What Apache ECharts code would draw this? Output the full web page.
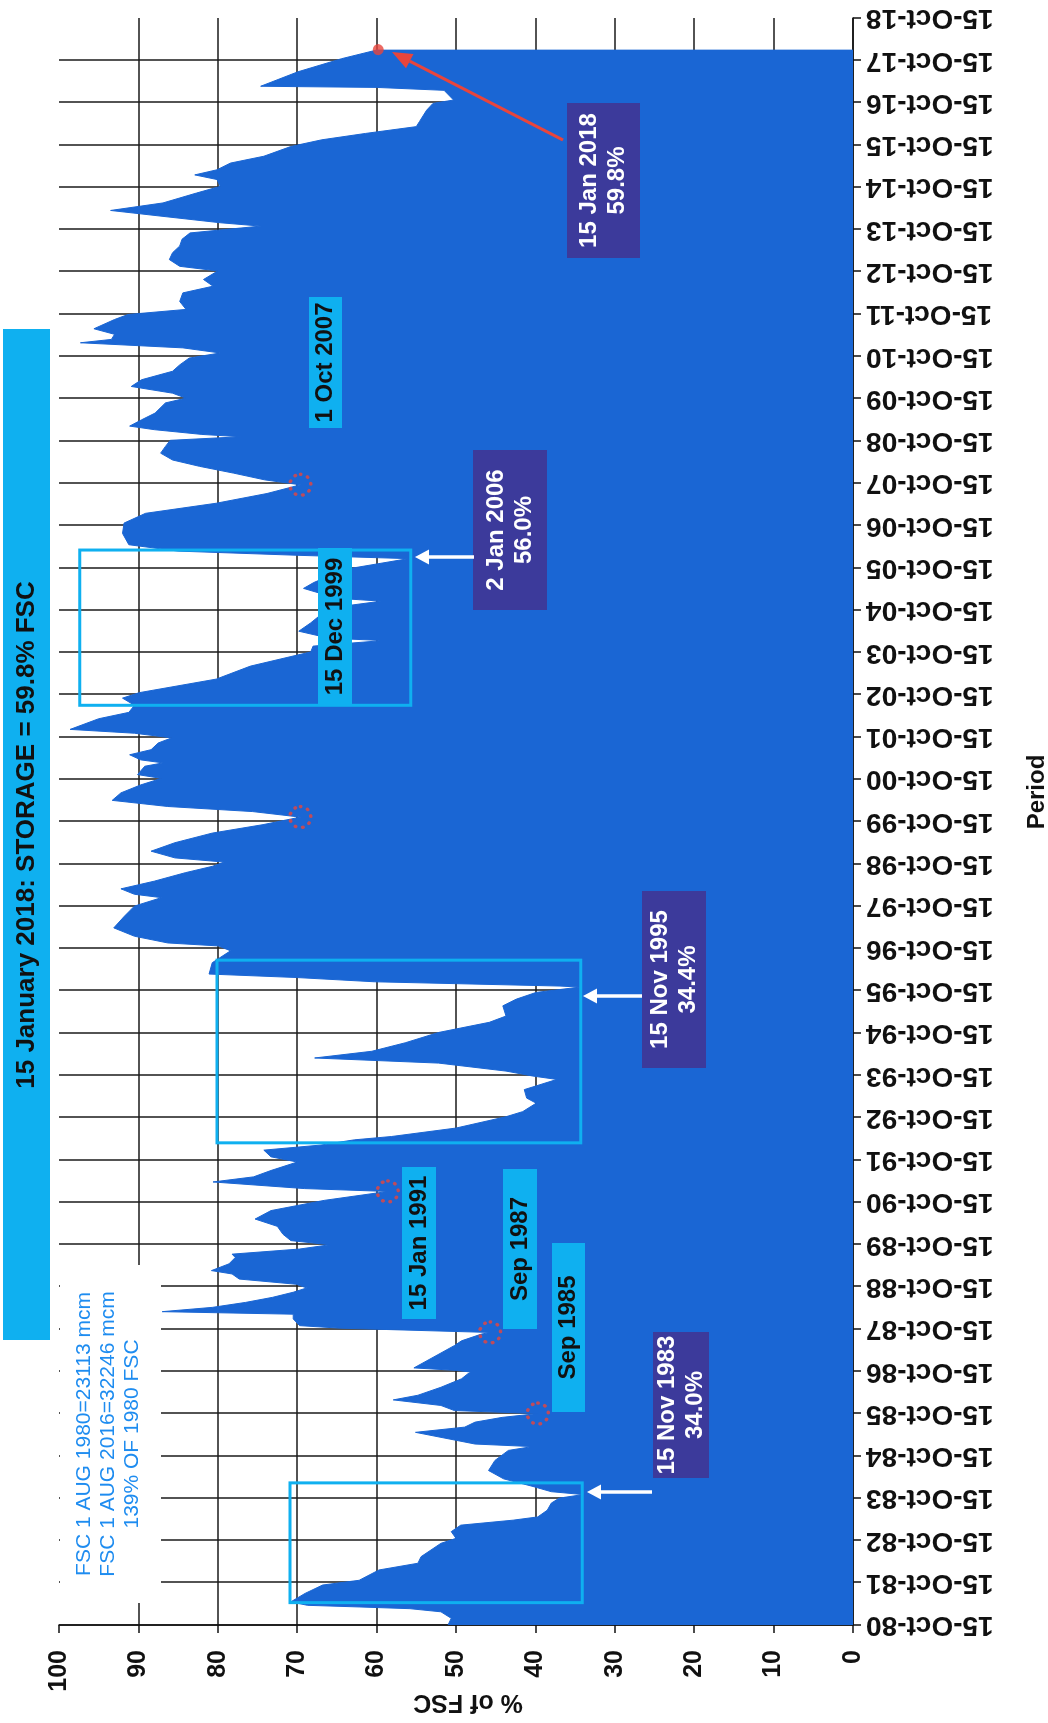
<!DOCTYPE html>
<html><head><meta charset="utf-8">
<script src="https://cdn.jsdelivr.net/npm/echarts@6/dist/echarts.min.js"></script>
<style>
html,body{margin:0;padding:0;width:1048px;height:1723px;overflow:hidden;background:#fff;}
#chart{position:absolute;left:0;top:0;width:1723px;height:1048px;transform-origin:0 0;transform:translateY(1723px) rotate(-90deg);}
</style></head><body><div id="chart"></div><script>
// ---- data ----
const dates = ['1980-10-15','1980-12-12','1981-02-06','1981-03-05','1981-03-20','1981-04-03','1981-05-03','1981-07-15','1981-09-25','1981-11-05',
'1982-02-02','1982-04-01','1982-05-28','1982-09-20','1982-11-02','1982-12-30','1983-02-24','1983-04-08','1983-05-06','1983-07-03',
'1983-09-02','1983-10-15','1983-11-15','1983-12-10','1984-01-24','1984-03-30','1984-06-10','1984-09-05','1984-12-01','1985-01-03',
'1985-01-25','1985-05-06','1985-06-20','1985-08-02','1985-09-12','1985-10-15','1985-11-10','1985-12-24','1986-02-10','1986-03-22',
'1986-05-30','1986-08-11','1986-09-24','1986-10-08','1986-10-22','1986-11-13','1987-05-25','1987-07-05','1987-09-01','1987-09-15',
'1987-10-22','1987-11-13','1988-01-10','1988-02-20','1988-03-13','1988-04-19','1988-06-01','1988-07-15','1988-08-28','1988-10-04',
'1988-11-05','1988-12-20','1989-02-02','1989-03-03','1989-04-30','1989-06-24','1989-07-23','1989-09-05','1989-10-12','1989-11-17',
'1990-01-11','1990-03-20','1990-05-22','1990-08-03','1990-10-30','1991-01-15','1991-02-09','1991-04-07','1991-05-21','1991-07-15',
'1991-09-26','1991-11-10','1992-01-07','1992-02-20','1992-04-05','1992-05-04','1992-07-16','1992-10-22','1992-12-05','1993-02-16',
'1993-04-01','1993-06-13','1993-09-09','1993-10-08','1993-11-20','1994-01-28','1994-03-13','1994-05-10','1994-07-22','1994-10-19',
'1995-01-15','1995-03-10','1995-06-06','1995-08-03','1995-09-30','1995-11-15','1995-11-24','1995-12-31','1996-02-06','1996-03-07',
'1996-06-13','1996-09-24','1996-11-05','1996-12-01','1997-01-28','1997-04-10','1997-07-17','1997-10-15','1997-12-27','1998-01-25',
'1998-03-13','1998-05-18','1998-07-30','1998-09-23','1998-10-30','1998-12-05','1999-02-01','1999-04-15','1999-07-07','1999-09-18',
'1999-11-22','2000-01-09','2000-02-22','2000-04-15','2000-06-19','2000-08-27','2000-10-22','2000-11-24','2001-02-04','2001-03-05',
'2001-03-31','2001-05-14','2001-06-27','2001-08-24','2001-10-07','2001-11-16','2001-12-19','2002-03-21','2002-05-15','2002-07-15',
'2002-09-15','2002-11-01','2003-02-26','2003-06-18','2003-09-15','2003-10-18','2003-12-08','2004-01-25','2004-02-15','2004-04-15',
'2004-06-26','2004-11-01','2004-12-31','2005-01-25','2005-04-20','2005-06-10','2005-10-01','2006-01-02','2006-01-31','2006-03-08',
'2006-05-02','2006-08-08','2006-11-05','2007-01-28','2007-04-25','2007-07-18','2007-10-01','2007-11-13','2008-01-10','2008-03-09',
'2008-05-03','2008-07-01','2008-08-28','2008-10-20','2008-11-20','2008-12-10','2009-01-20','2009-02-20','2009-04-15','2009-06-12',
'2009-09-08','2009-10-19','2009-12-01','2010-01-28','2010-03-27','2010-06-08','2010-08-02','2010-09-30','2010-11-13','2010-12-27',
'2011-02-09','2011-03-10','2011-04-23','2011-06-10','2011-08-29','2011-10-11','2011-11-24','2012-02-01','2012-04-15','2012-06-12',
'2012-08-09','2012-10-22','2012-12-01','2013-01-28','2013-03-28','2013-05-25','2013-07-23','2013-09-15','2013-11-13','2013-12-12',
'2014-02-05','2014-03-28','2014-06-01','2014-08-25','2014-10-22','2014-12-20','2015-01-29','2015-03-14','2015-05-11','2015-07-09',
'2015-10-01','2015-11-28','2016-01-22','2016-03-21','2016-05-04','2016-08-10','2016-10-08','2016-11-06','2017-01-29','2017-02-23',
'2017-03-05','2017-07-08','2017-10-29','2018-01-15'];
const storage = [51.0,50.6,51.9,55.8,62.2,68.7,70.8,69.0,66.8,62.2,
59.7,54.8,54.4,51.9,50.0,50.6,49.4,42.8,39.7,38.5,
38.0,37.0,34.0,38.0,40.3,44.0,45.9,45.1,43.4,40.4,
47.6,55.1,48.9,47.6,44.2,39.7,50.2,51.9,57.9,54.8,
51.9,49.3,48.5,48.1,49.8,55.3,50.2,49.3,46.8,45.7,
64.6,69.7,70.5,70.5,87.0,80.7,76.5,73.1,70.5,68.8,
70.1,77.3,78.2,80.8,78.6,77.8,78.2,69.7,65.9,70.8,
71.8,72.5,75.3,73.3,66.6,58.6,69.1,80.6,75.5,73.3,
70.0,73.3,74.2,67.0,62.8,58.1,50.0,43.7,41.6,39.9,
41.1,41.4,37.3,40.3,43.7,52.2,67.8,60.6,56.4,52.2,
45.8,43.7,44.1,42.4,39.9,34.4,36.9,60.3,70.1,81.1,
80.7,78.4,79.9,86.3,90.5,93.1,91.8,90.5,87.1,90.5,
92.2,88.0,84.1,80.7,79.2,85.4,88.4,85.4,80.7,74.3,
69.6,75.6,86.3,93.3,92.2,89.7,87.1,90.1,89.2,86.9,
89.7,91.1,88.4,87.5,85.8,90.5,98.6,95.0,91.2,90.5,
92.0,89.9,80.2,75.9,70.4,68.3,68.0,59.2,66.0,69.8,
68.3,66.0,59.4,65.0,69.2,67.9,64.0,56.0,70.0,85.0,
91.2,92.0,91.8,89.1,80.2,73.8,69.6,74.1,78.0,82.3,
85.7,87.2,86.6,86.0,77.1,82.0,88.0,91.1,89.6,87.9,
86.6,84.0,85.7,90.9,89.6,85.7,84.8,83.6,79.7,84.4,
97.3,93.4,93.0,95.6,93.0,91.3,84.0,84.8,84.4,80.6,
81.8,80.0,84.8,86.1,85.7,84.8,84.5,83.5,74.6,79.7,
86.9,93.5,86.9,82.7,79.7,80.1,82.9,80.1,78.4,74.2,
70.8,66.9,61.4,55.0,54.6,53.7,52.9,50.3,51.5,60.0,
74.6,69.9,64.4,59.8];
const periodLabels = ['15-Oct-80','15-Oct-81','15-Oct-82','15-Oct-83','15-Oct-84','15-Oct-85','15-Oct-86','15-Oct-87','15-Oct-88','15-Oct-89',
'15-Oct-90','15-Oct-91','15-Oct-92','15-Oct-93','15-Oct-94','15-Oct-95','15-Oct-96','15-Oct-97','15-Oct-98','15-Oct-99',
'15-Oct-00','15-Oct-01','15-Oct-02','15-Oct-03','15-Oct-04','15-Oct-05','15-Oct-06','15-Oct-07','15-Oct-08','15-Oct-09',
'15-Oct-10','15-Oct-11','15-Oct-12','15-Oct-13','15-Oct-14','15-Oct-15','15-Oct-16','15-Oct-17','15-Oct-18'];
const circleDates = ['1985-10-15','1987-09-15','1991-01-15','1999-11-22','2007-10-01'];
const circleValues = [39.7, 45.7, 58.6, 69.6, 69.6];
const latestDate = '2018-01-15';
const latestValue = 59.8;
const boxDates = [['1981-04-26','1984-02-24'],['1992-03-10','1996-07-05'],['2002-07-15','2006-03-17']];
const boxValues = [[70.9,34.1],[80.1,34.3],[97.4,55.7]];

// ---- helpers ----
function toT(s){
  const p = s.split('-').map(Number), y=p[0], m=p[1], d=p[2];
  const dt = Date.UTC(y,m-1,d);
  const base = (m>10 || (m===10 && d>=15)) ? y : y-1;
  const a = Date.UTC(base,9,15), b = Date.UTC(base+1,9,15);
  return (base-1980) + (dt-a)/(b-a);
}
const FONT = "'Liberation Sans', Arial, sans-serif";
const BLUE = '#1a66d4', CYAN = '#0fb0f0', DARK = '#3c3a9b', RED = '#e8453c', INK = '#111111';

const chart = echarts.init(document.getElementById('chart'));
chart.setOption({
  animation:false,
  backgroundColor:'#ffffff',
  grid:{left:98,right:18,top:59,bottom:195,containLabel:false,outerBoundsMode:'none'},
  xAxis:{type:'value',min:0,max:38,interval:1,
    axisLine:{show:true,onZero:false,lineStyle:{color:INK,width:1.5}},
    axisTick:{show:true,length:8,lineStyle:{color:INK,width:1.5}},
    axisLabel:{rotate:90,margin:13,fontSize:28,fontWeight:'bold',color:INK,fontFamily:FONT,
      formatter:function(v){return periodLabels[Math.round(v)];}},
    splitLine:{show:true,showMaxLine:false,lineStyle:{color:'#1a1a1a',width:1.5}}},
  yAxis:{type:'value',min:0,max:100,interval:10,
    axisLine:{show:true,onZero:false,lineStyle:{color:INK,width:1.5}},
    axisTick:{show:true,length:8,lineStyle:{color:INK,width:1.5}},
    axisLabel:{margin:25,fontSize:25,fontWeight:'bold',color:INK,fontFamily:FONT},
    splitLine:{show:true,showMaxLine:false,lineStyle:{color:'#1a1a1a',width:1.5}}},
  series:[
    {type:'line',data:dates.map(function(d,i){return [toT(d),storage[i]];}),showSymbol:false,symbol:'none',
     lineStyle:{width:1,color:BLUE},areaStyle:{color:BLUE,opacity:1},z:2},
    {type:'scatter',data:circleDates.map(function(d,i){return [toT(d),circleValues[i]];}),symbol:'circle',symbolSize:21,
     itemStyle:{color:'rgba(0,0,0,0)',borderColor:RED,borderWidth:3.5,borderType:[0.5,7],borderCap:'round'},z:6},
    {type:'scatter',data:[[toT(latestDate),latestValue]],symbol:'circle',symbolSize:11,itemStyle:{color:RED},z:7}
  ]
});

const g = [];
function txt(x,y,text,size,weight,fill,rot){
  g.push({type:'text',x:x,y:y,rotation:rot||0,z:12,style:{text:text,fontSize:size,fontWeight:weight,fontFamily:FONT,fill:fill,
    align:'center',verticalAlign:'middle',lineHeight:size+4}});
}
function label(x1,x2,y1,y2,fill,text,color){
  g.push({type:'rect',shape:{x:x1,y:y1,width:x2-x1,height:y2-y1},style:{fill:fill},z:10});
  txt((x1+x2)/2,(y1+y2)/2,text,24,'bold',color);
}
function arrow(x1,y1,x2,y2,color,w,hl,hw){
  const dx=x2-x1, dy=y2-y1, L=Math.hypot(dx,dy), ux=dx/L, uy=dy/L;
  const bx=x2-ux*hl, by=y2-uy*hl;
  g.push({type:'line',shape:{x1:x1,y1:y1,x2:bx,y2:by},style:{stroke:color,lineWidth:w},z:20});
  g.push({type:'polygon',shape:{points:[[x2,y2],[bx-uy*hw/2,by+ux*hw/2],[bx+uy*hw/2,by-ux*hw/2]]},style:{fill:color},z:20});
}
// white note box
g.push({type:'rect',shape:{x:120,y:60,width:338,height:101},style:{fill:'#ffffff'},z:1});
txt(289,84,'FSC 1 AUG 1980=23113 mcm',21,'normal','#1e8cf0');
txt(289,108,'FSC 1 AUG 2016=32246 mcm',21,'normal','#1e8cf0');
txt(289,132,'139% OF 1980 FSC',21,'normal','#1e8cf0');
// title bar
g.push({type:'rect',shape:{x:383,y:3,width:1011,height:47},style:{fill:CYAN},z:10});
txt(888,27,'15 January 2018: STORAGE = 59.8% FSC',26,'bold',INK);
// outline boxes tied to data
for(let i=0;i<boxDates.length;i++){
  const p1 = chart.convertToPixel({gridIndex:0},[toT(boxDates[i][0]),boxValues[i][0]]);
  const p2 = chart.convertToPixel({gridIndex:0},[toT(boxDates[i][1]),boxValues[i][1]]);
  g.push({type:'rect',shape:{x:Math.min(p1[0],p2[0]),y:Math.min(p1[1],p2[1]),width:Math.abs(p2[0]-p1[0]),height:Math.abs(p2[1]-p1[1])},
    style:{fill:'none',stroke:CYAN,lineWidth:3},z:5});
}
// dark labels
label(1465,1620,567,640,DARK,'15 Jan 2018\n59.8%','#ffffff');
label(1113,1273,473,547,DARK,'2 Jan 2006\n56.0%','#ffffff');
label(655,832,642,706,DARK,'15 Nov 1995\n34.4%','#ffffff');
label(245,391,653,709,DARK,'15 Nov 1983\n34.0%','#ffffff');
// cyan labels
label(1295,1426,309,342,CYAN,'1 Oct 2007',INK);
label(1018,1175,318,352,CYAN,'15 Dec 1999',INK);
label(404,556,402,436,CYAN,'15 Jan 1991',INK);
label(394,554,503,537,CYAN,'Sep 1987',INK);
label(311,480,552,585,CYAN,'Sep 1985',INK);
// arrows
arrow(1583,563,1671,392,RED,3,20,16);
arrow(1166,474,1166,415,'#ffffff',3.5,14,15);
arrow(727,642,727,583,'#ffffff',3.5,14,15);
arrow(231,652,231,587,'#ffffff',3.5,14,15);
// axis names
txt(931,1037,'Period',24,'bold',INK);
txt(21,468,'% of FSC',25,'bold',INK,Math.PI/2);
chart.setOption({graphic:{elements:g}});
</script></body></html>
